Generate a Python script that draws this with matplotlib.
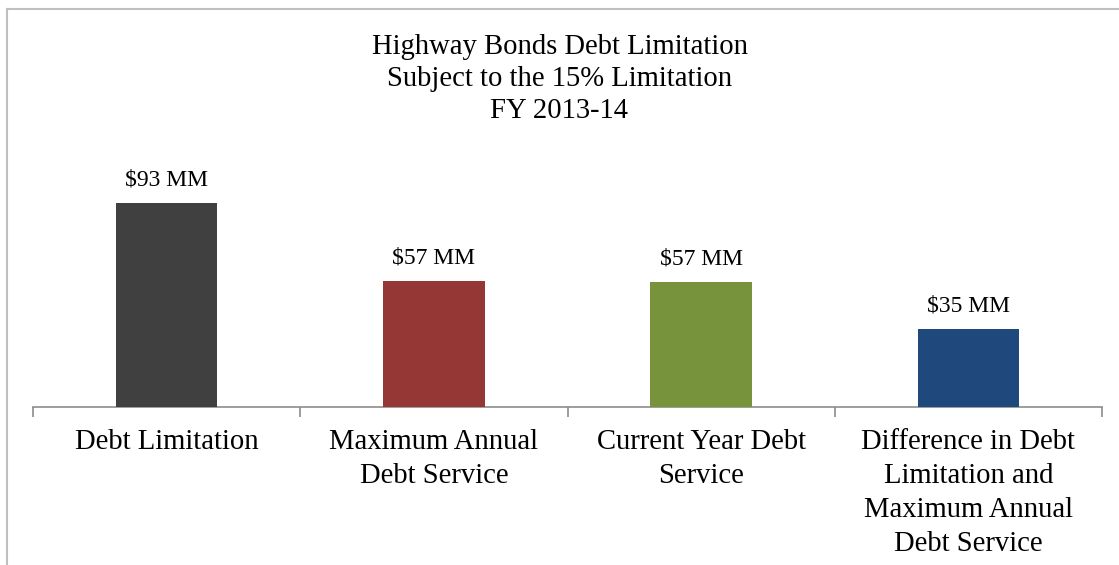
import matplotlib.pyplot as plt
from matplotlib.lines import Line2D
import numpy as np

# Highway bonds debt limitation, FY 2013-14 (in $ millions)
categories = ["Debt Limitation",
              "Maximum Annual\nDebt Service",
              "Current Year Debt\nService",
              "Difference in Debt\nLimitation and\nMaximum Annual\nDebt Service"]
values = [92.9, 57.3, 56.9, 35.6]
value_labels = ["$93 MM", "$57 MM", "$57 MM", "$35 MM"]
bar_colors = ["#404040", "#953735", "#77933C", "#1F497D"]

W, H = 1119, 565
fig = plt.figure(figsize=(W / 100, H / 100), dpi=100)
plt.rcParams['font.family'] = ['Liberation Serif', 'DejaVu Serif']

# axes: x from 33 to 1102 px, baseline at y=407 px, top at y=150 px
left, right, bottom, top = 33, 1102, 407, 150
ax = fig.add_axes([left / W, 1 - bottom / H, (right - left) / W, (bottom - top) / H])

x = np.arange(len(categories))
ax.bar(x, values, width=0.38, color=bar_colors, zorder=3)
px_per_unit = 204 / 92.9
ax.set_ylim(0, (bottom - top) / px_per_unit)
ax.set_xlim(-0.5, len(categories) - 0.5)

for xi, v, lab in zip(x, values, value_labels):
    ax.annotate(lab, (xi, v), xytext=(0, 9), textcoords="offset points",
                ha="center", va="bottom", fontsize=17)

# Hide everything except the category axis
for side in ["left", "right", "top"]:
    ax.spines[side].set_visible(False)
ax.spines["bottom"].set_color("#8c8c8c")
ax.spines["bottom"].set_linewidth(1.2)
ax.set_yticks([])
ax.set_xticks(x)
ax.set_xticklabels(categories, fontsize=20.6, linespacing=1.4, va="top")
ax.tick_params(axis="x", which="major", length=0, pad=15.5)
ax.set_xticks(np.arange(-0.5, len(categories)), minor=True)
ax.tick_params(axis="x", which="minor", length=7, width=1.2, color="#8c8c8c")

fig.text(0.5, 1 - 79 / H, "Highway Bonds Debt Limitation\nSubject to the 15% Limitation\nFY 2013-14",
         ha="center", va="center", fontsize=20.6, linespacing=1.29)

# chart frame (only top and left edges visible)
fig.add_artist(Line2D([7 / W, 1], [1 - 9 / H, 1 - 9 / H], color="#c0c0c0", lw=1.5))
fig.add_artist(Line2D([7 / W, 7 / W], [0, 1 - 9 / H], color="#c0c0c0", lw=1.5))

fig.savefig("out.png", dpi=100, facecolor="white")
